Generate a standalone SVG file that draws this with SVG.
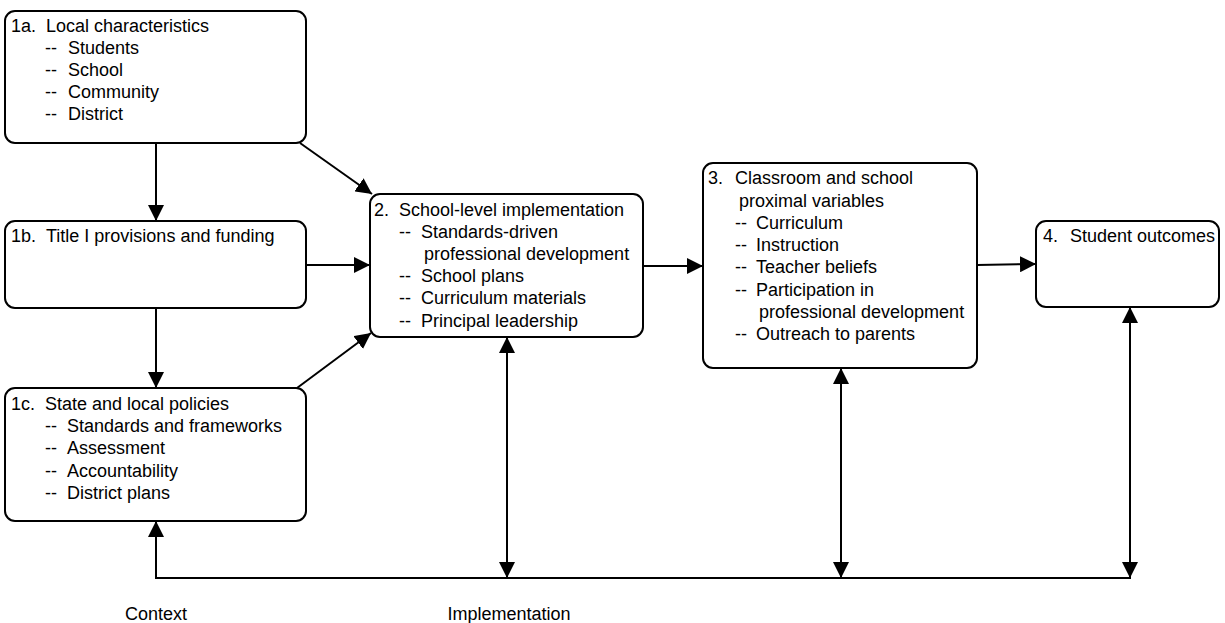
<svg xmlns="http://www.w3.org/2000/svg" width="1225" height="623" viewBox="0 0 1225 623">
<defs>
<style>
.box{fill:#fff;stroke:#000;stroke-width:2}
.t{font-family:"Liberation Sans",Arial,sans-serif;font-size:18px;fill:#000}
.c{fill:none;stroke:#000;stroke-width:2}
</style>
<marker id="ah" markerUnits="userSpaceOnUse" markerWidth="16" markerHeight="16" refX="16" refY="8" orient="auto-start-reverse" viewBox="0 0 16 16">
<path d="M0,0 L16,8 L0,16 z" fill="#000"/>
</marker>
</defs>
<rect width="1225" height="623" fill="#fff"/>
<g id="connectors">
<path class="c" d="M156,143 L156,221" marker-end="url(#ah)"/>
<path class="c" d="M156,308 L156,388" marker-end="url(#ah)"/>
<path class="c" d="M300,143 L372,194" marker-end="url(#ah)"/>
<path class="c" d="M306,265 L370,265" marker-end="url(#ah)"/>
<path class="c" d="M297,388 L371,333" marker-end="url(#ah)"/>
<path class="c" d="M643,266 L703,266" marker-end="url(#ah)"/>
<path class="c" d="M977,265 L1036,264" marker-end="url(#ah)"/>
<path class="c" d="M156,578 L156,521" marker-end="url(#ah)"/>
<path class="c" d="M155,578 L1131,578"/>
<path class="c" d="M507,578 L507,337" marker-start="url(#ah)" marker-end="url(#ah)"/>
<path class="c" d="M841,578 L841,368" marker-start="url(#ah)" marker-end="url(#ah)"/>
<path class="c" d="M1130,578 L1130,307" marker-start="url(#ah)" marker-end="url(#ah)"/>
</g>
<g id="n1a">
<rect class="box" x="5" y="11" width="301" height="132" rx="10"/>
<text class="t"><tspan x="11" y="32">1a.</tspan><tspan x="46" y="32">Local characteristics</tspan>
<tspan x="45" y="54">--</tspan><tspan x="68" y="54">Students</tspan>
<tspan x="45" y="76">--</tspan><tspan x="68" y="76">School</tspan>
<tspan x="45" y="98">--</tspan><tspan x="68" y="98">Community</tspan>
<tspan x="45" y="120">--</tspan><tspan x="68" y="120">District</tspan></text>
</g>
<g id="n1b">
<rect class="box" x="5" y="221" width="301" height="87" rx="10"/>
<text class="t"><tspan x="11" y="242">1b.</tspan><tspan x="46" y="242">Title I provisions and funding</tspan></text>
</g>
<g id="n1c">
<rect class="box" x="5" y="388" width="301" height="133" rx="10"/>
<text class="t"><tspan x="11" y="410">1c.</tspan><tspan x="45" y="410">State and local policies</tspan>
<tspan x="45" y="432">--</tspan><tspan x="67" y="432">Standards and frameworks</tspan>
<tspan x="45" y="454">--</tspan><tspan x="67" y="454">Assessment</tspan>
<tspan x="45" y="477">--</tspan><tspan x="67" y="477">Accountability</tspan>
<tspan x="45" y="499">--</tspan><tspan x="67" y="499">District plans</tspan></text>
</g>
<g id="n2">
<rect class="box" x="370" y="194" width="273" height="143" rx="10"/>
<text class="t"><tspan x="374" y="216">2.</tspan><tspan x="399" y="216">School-level implementation</tspan>
<tspan x="399" y="238">--</tspan><tspan x="421" y="238">Standards-driven</tspan>
<tspan x="424" y="260">professional development</tspan>
<tspan x="399" y="282">--</tspan><tspan x="421" y="282">School plans</tspan>
<tspan x="399" y="304">--</tspan><tspan x="421" y="304">Curriculum materials</tspan>
<tspan x="399" y="327">--</tspan><tspan x="421" y="327">Principal leadership</tspan></text>
</g>
<g id="n3">
<rect class="box" x="703" y="163" width="274" height="205" rx="10"/>
<text class="t"><tspan x="708" y="184">3.</tspan><tspan x="735" y="184">Classroom and school</tspan>
<tspan x="739" y="207">proximal variables</tspan>
<tspan x="735" y="229">--</tspan><tspan x="756" y="229">Curriculum</tspan>
<tspan x="735" y="251">--</tspan><tspan x="756" y="251">Instruction</tspan>
<tspan x="735" y="273">--</tspan><tspan x="756" y="273">Teacher beliefs</tspan>
<tspan x="735" y="296">--</tspan><tspan x="756" y="296">Participation in</tspan>
<tspan x="759" y="318">professional development</tspan>
<tspan x="735" y="340">--</tspan><tspan x="756" y="340">Outreach to parents</tspan></text>
</g>
<g id="n4">
<rect class="box" x="1036" y="221" width="183" height="86" rx="10"/>
<text class="t"><tspan x="1043" y="242">4.</tspan><tspan x="1070" y="242">Student outcomes</tspan></text>
</g>
<g id="labels">
<text class="t" x="156" y="620" text-anchor="middle">Context</text>
<text class="t" x="509" y="620" text-anchor="middle">Implementation</text>
</g>
</svg>
